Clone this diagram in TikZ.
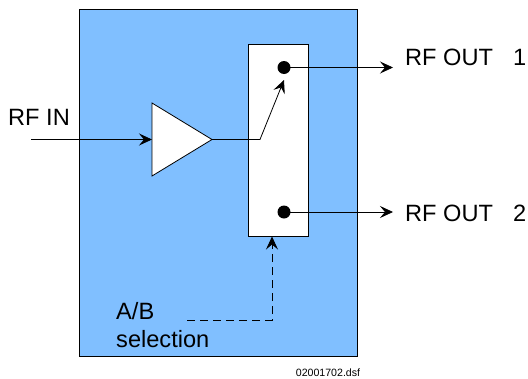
\documentclass[tikz,border=0pt]{standalone}
\usepackage{fontspec}
\setmainfont{Liberation Sans}
\usetikzlibrary{arrows.meta}
\definecolor{panel}{HTML}{80BFFF}
\tikzset{
  x=1pt,y=-1pt,
  conn/.style={black,line width=0.8pt,-{Stealth[length=13pt,width=12pt,inset=5pt]}},
  lab/.style={inner sep=0pt,anchor=base west,font=\fontsize{23.6}{28}\selectfont},
  dotn/.style={circle,fill=black,inner sep=0pt,minimum size=13pt}
}
\begin{document}
\begin{tikzpicture}
\useasboundingbox (0,0) rectangle (528,378);
\node[draw=black,fill=panel,line width=0.8pt,minimum width=278pt,minimum height=347pt,inner sep=0pt,anchor=north west] (panel) at (79,9) {};
\node[draw=black,fill=white,line width=0.8pt,minimum width=60pt,minimum height=192pt,inner sep=0pt,anchor=north west] (sw) at (248,44) {};
\coordinate (tl) at (152,103);
\coordinate (bl) at (152,176);
\coordinate (tip) at (212,139.5);
\draw[fill=white,line width=0.8pt] (tl) -- (tip) -- (bl) -- cycle;
\node[dotn] (d1) at (284,67.5) {};
\node[dotn] (d2) at (284,212) {};
\node[lab] (rfin) at (8,125) {RF IN};
\node[lab] (o1) at (405,65) {RF OUT\hspace{20pt}1};
\node[lab] (o2) at (405,221) {RF OUT\hspace{20pt}2};
\node[lab] (sel1) at (116,319) {A/B};
\node[lab] (sel2) at (116,347) {selection};
\node[inner sep=0pt,anchor=center,font=\fontsize{10.6}{12}\selectfont] (file) at (328,372.5) {02001702.dsf};
\coordinate (instart) at (31,139.5);
\coordinate (k) at (260,139.5);
\coordinate (dstart) at (187,320);
\coordinate (dk) at (272,320);
\coordinate (o1end) at (393,67.5);
\coordinate (o2end) at (393,212);
\coordinate (d1tip) at (284,80);
\coordinate (seltip) at (272,236.5);
\draw[conn] (instart) -- (tl |- instart);
\draw[conn] (tip) -- (k) -- (d1tip);
\draw[conn] (d1.center) -- (o1end);
\draw[conn] (d2.center) -- (o2end);
\draw[conn,dash pattern=on 8pt off 5pt] (dstart) -- (dk) -- (seltip);
\end{tikzpicture}
\end{document}
